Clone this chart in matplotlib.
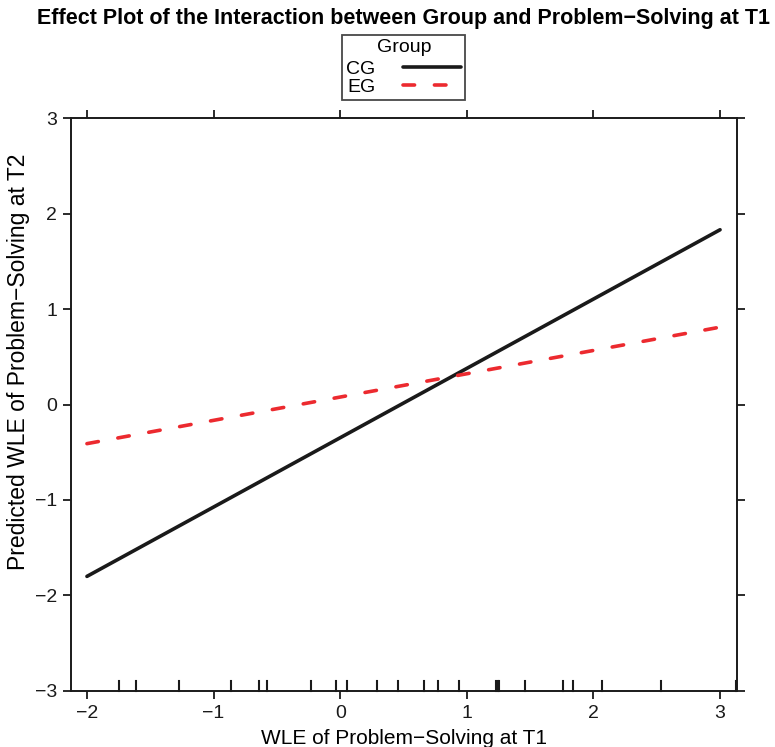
import matplotlib.pyplot as plt
import numpy as np

plt.rcParams['font.family'] = ['Liberation Sans', 'DejaVu Sans']

# effect lines (predicted values at the ends of the range)
x_ends = [-2, 3]
cg_pred = [-1.80, 1.83]
eg_pred = [-0.41, 0.81]

# observed WLE values at T1 (rug)
rug_x = [-1.75, -1.61, -1.27, -0.865, -0.64, -0.575, -0.23, -0.035, 0.055,
         0.29, 0.46, 0.66, 0.775, 0.94, 1.23, 1.245, 1.255, 1.46, 1.76,
         1.835, 2.07, 2.53, 3.125]

xticks = [-2, -1, 0, 1, 2, 3]
yticks = [-3, -2, -1, 0, 1, 2, 3]

fig = plt.figure(figsize=(7.75, 7.47), dpi=100)
ax = fig.add_axes([0.0916, 0.075, 0.8594, 0.767])

ax.plot(x_ends, cg_pred, color='#1a1a1a', lw=2.6, solid_capstyle='round', label='CG')
ax.plot(x_ends, eg_pred, color='#ec2a2f', lw=2.6, dashes=(3.2, 5.5),
        dash_capstyle='round', label='EG')

# rug marks along the bottom
for xv in rug_x:
    ax.plot([xv, xv], [-3, -2.895], color='#1a1a1a', lw=1.5, clip_on=False)

ax.set_xlim(-2.126, 3.134)
ax.set_ylim(-3, 3)
ax.set_xticks(xticks)
ax.set_yticks(yticks)
ax.set_xticklabels(['\u22122', '\u22121', '0', '1', '2', '3'])
ax.set_yticklabels(['\u22123', '\u22122', '\u22121', '0', '1', '2', '3'])
ax.tick_params(direction='out', length=6, width=1.3, labelsize=14,
               top=True, right=True, colors='#1a1a1a', pad=4)
for s in ax.spines.values():
    s.set_linewidth(1.4)
    s.set_color('#1a1a1a')

ax.set_xlabel('WLE of Problem\u2212Solving at T1', fontsize=15, labelpad=5)
ax.set_ylabel('Predicted WLE of Problem\u2212Solving at T2', fontsize=16.5)
ax.yaxis.set_label_coords(-0.061, 0.574)

fig.text(0.521, 0.975, 'Effect Plot of the Interaction between Group and Problem\u2212Solving at T1',
         ha='center', va='center', fontsize=15.5, fontweight='bold')

leg = fig.legend(loc='upper center', bbox_to_anchor=(0.521, 0.953), title='Group',
                 fontsize=14, title_fontsize=14, markerfirst=False, frameon=True,
                 fancybox=False, edgecolor='#1a1a1a', labelspacing=0.0,
                 handlelength=3.0, handletextpad=1.4, borderpad=0.22,
                 borderaxespad=0)
leg._legend_box.sep = 3
leg.get_frame().set_linewidth(1.3)

fig.savefig('out.png', dpi=100)
